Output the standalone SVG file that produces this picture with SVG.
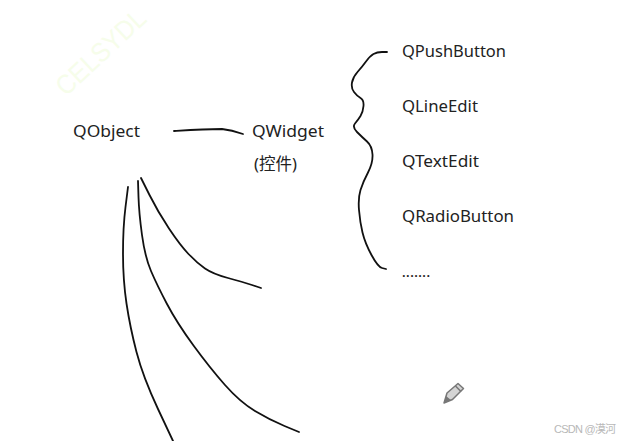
<svg xmlns="http://www.w3.org/2000/svg" width="626" height="441" viewBox="0 0 626 441">
<style>
.t{font-family:"Noto Sans","Noto Sans CJK SC",sans-serif;font-size:17px;fill:#222}
.c{fill:none;stroke:#111;stroke-width:1.800;stroke-linecap:round;stroke-linejoin:round}
.m{font-family:"Liberation Sans","Noto Sans CJK SC",sans-serif;font-size:11px;fill:#b8b8b8}
.w{font-family:"Liberation Sans",sans-serif;font-size:27px;fill:#f6fdea}
</style>
<rect width="626" height="441" fill="#fff"/>
<text class="w" transform="translate(66 97) rotate(-43)" textLength="112" lengthAdjust="spacingAndGlyphs">CELSYDL</text>
<g id="connectors">
<path class="c" d="M174 131C190 130 205 129 222 129C230 130 237 132 243 134"/>
<path class="c" d="M387 52L382 52Q377 52 373.500 54Q370 56 366 61.500Q362 67 357.500 72Q353 77 352 82.500Q351 88 354 92Q357 96 360.500 98Q364 100 363.500 106Q363 112 360.500 116Q358 120 355 123.500Q352 127 357 132Q362 137 367 141.500Q372 146 372.500 154.500Q373 163 368 172.500Q363 182 360.500 190Q358 198 359 210Q360 222 362.500 232.500Q365 243 371.500 255Q378 267 382 268L386 269"/>
<path class="c" d="M141 178L149.500 195Q158 212 169 228.500Q180 245 188.500 254Q197 263 205 268.500Q213 274 228 278Q243 282 252 285L261 288"/>
<path class="c" d="M138 181L138.500 197Q139 213 142 235Q145 257 151 271Q157 285 167 304Q177 323 193.500 345.500Q210 368 225 385Q240 402 255 411Q270 420 284.500 426L299 432"/>
<path class="c" d="M128 187L125.500 207Q123 227 123 253.500Q123 280 126.500 303.500Q130 327 136.500 352Q143 377 158 409L173 441"/>
</g>
<g id="QObject"><text class="t" x="73" y="136.500" textLength="67" lengthAdjust="spacingAndGlyphs">QObject</text></g>
<g id="QWidget"><text class="t" x="252" y="136.500" textLength="72" lengthAdjust="spacingAndGlyphs">QWidget</text><text class="t" x="254" y="170" style="font-size:16.500px">(控件)</text></g>
<g id="QPushButton"><text class="t" x="402" y="56.500" textLength="104" lengthAdjust="spacingAndGlyphs">QPushButton</text></g>
<g id="QLineEdit"><text class="t" x="402" y="111.500" textLength="76" lengthAdjust="spacingAndGlyphs">QLineEdit</text></g>
<g id="QTextEdit"><text class="t" x="402" y="166.500" textLength="77" lengthAdjust="spacingAndGlyphs">QTextEdit</text></g>
<g id="QRadioButton"><text class="t" x="402" y="221.500" textLength="112" lengthAdjust="spacingAndGlyphs">QRadioButton</text></g>
<g id="more"><text class="t" x="402" y="277" textLength="28" lengthAdjust="spacing" style="font-size:13px;font-weight:600">.......</text></g>
<g id="pencil">
<path d="M444 403L447 393L458 383.500L463.500 388.500L452.500 399.500Z" fill="#d4d4d4" stroke="#777" stroke-width="1.500" stroke-linejoin="round"/>
<path d="M444 403L446 396L451 400Z" fill="#777"/>
<path d="M455.500 386L461 391.500" stroke="#777" stroke-width="1.500"/>
</g>
<text class="m" x="554" y="433" textLength="62">CSDN @漠河</text>
</svg>
